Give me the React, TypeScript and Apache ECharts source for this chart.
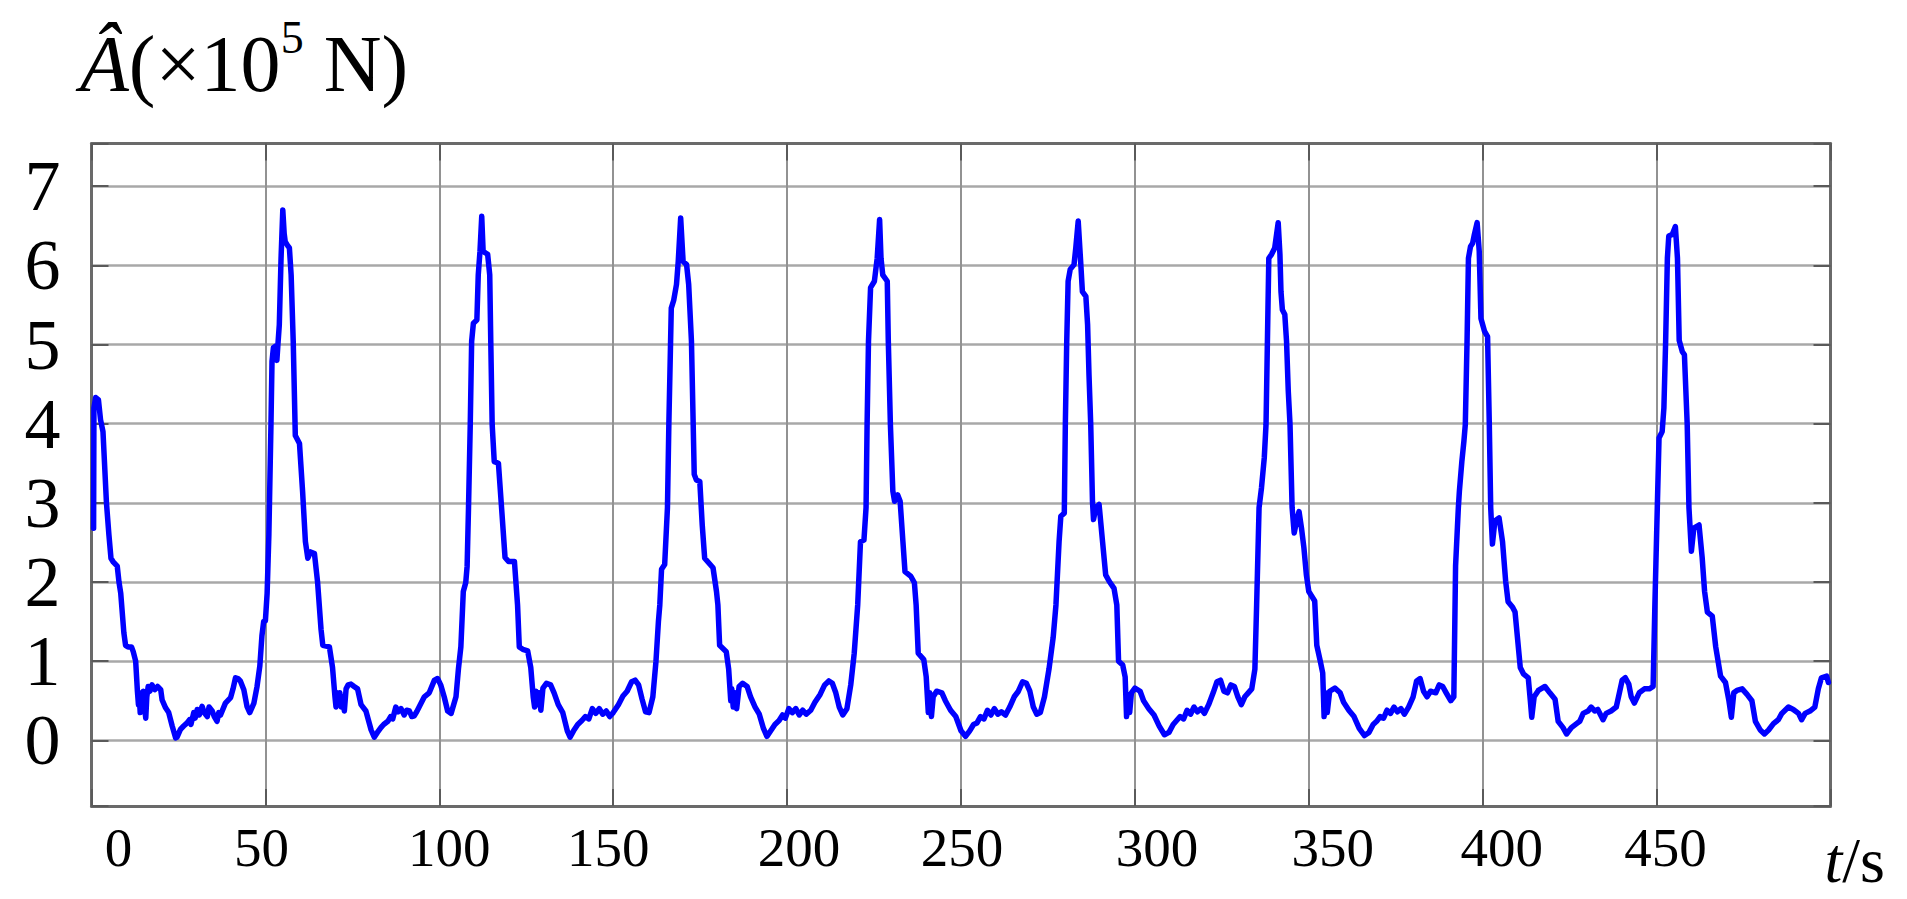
import React, { useEffect, useRef } from 'react';
import * as echarts from 'echarts';

// time t (s) , force Â (x10^5 N)
const cycle0: [number, number][] = [
  [0.6, 2.68], [0.7, 4.2], [1.2, 4.33], [2.0, 4.3], [2.6, 4.05], [3.3, 3.9], [4.3, 3.0], [5.0, 2.6], [5.6, 2.3], [6.3, 2.25],
  [7.4, 2.2], [7.9, 2.0], [8.4, 1.86], [9.3, 1.36], [9.8, 1.2], [10.5, 1.18], [11.5, 1.18], [12.0, 1.12], [12.7, 1.0], [13.2, 0.62],
  [13.5, 0.45], [13.7, 0.6], [14.0, 0.35], [14.3, 0.6], [14.6, 0.4], [14.9, 0.62], [15.2, 0.45], [15.6, 0.28], [15.9, 0.55], [16.3, 0.68],
  [16.8, 0.62], [17.4, 0.7], [18.2, 0.64], [19.0, 0.68], [19.9, 0.64], [20.3, 0.51], [21.3, 0.41], [22.2, 0.35], [23.2, 0.18], [24.2, 0.03],
  [24.6, 0.04], [25.6, 0.14], [26.5, 0.18], [27.5, 0.22], [28.2, 0.26], [28.6, 0.2], [29.4, 0.35], [29.8, 0.28], [30.4, 0.39], [31.0, 0.32],
  [31.8, 0.43], [32.4, 0.35], [33.3, 0.3], [33.8, 0.42], [34.7, 0.37], [35.3, 0.3], [36.1, 0.24], [36.6, 0.35], [37.1, 0.32], [38.5, 0.47],
  [40.0, 0.54], [40.7, 0.65], [41.4, 0.79], [42.1, 0.78], [42.8, 0.75], [43.8, 0.64], [44.7, 0.43], [45.5, 0.35], [46.7, 0.47], [47.6, 0.68],
  [48.4, 0.94], [49.0, 1.32], [49.5, 1.5], [50.0, 1.51],
];
const cycle1: [number, number][] = [
  [50.5, 1.86], [51.0, 2.6], [51.6, 3.99], [51.9, 4.79], [52.3, 4.96], [52.9, 4.98], [53.3, 4.8], [53.6, 5.0], [54.0, 5.25], [54.5, 6.09],
  [55.0, 6.7], [55.4, 6.4], [55.7, 6.3], [56.4, 6.25], [56.9, 6.22], [57.4, 5.88], [58.0, 5.04], [58.6, 3.85], [59.8, 3.75], [60.7, 3.14],
  [61.5, 2.51], [62.2, 2.3], [63.0, 2.38], [64.1, 2.36], [65.0, 2.0], [66.0, 1.4], [66.5, 1.2], [68.4, 1.18], [69.3, 0.92], [70.0, 0.55],
  [70.3, 0.42], [70.6, 0.6], [71.0, 0.45], [71.4, 0.6], [71.8, 0.42], [72.2, 0.55], [72.7, 0.37], [73.2, 0.65], [73.8, 0.7], [74.6, 0.71],
  [75.5, 0.68], [76.5, 0.65], [77.5, 0.45], [78.9, 0.37], [80.4, 0.13], [81.3, 0.04], [82.2, 0.1], [83.2, 0.16], [84.0, 0.2], [85.2, 0.24],
  [86.0, 0.3], [86.6, 0.27], [87.5, 0.42], [88.2, 0.36], [89.0, 0.4], [89.9, 0.32], [90.6, 0.38], [91.4, 0.37], [92.1, 0.3], [92.8, 0.31],
  [93.5, 0.36], [94.2, 0.42], [95.7, 0.55], [97.1, 0.6], [98.6, 0.76], [99.5, 0.78], [100.4, 0.7], [101.4, 0.55], [102.4, 0.37], [103.4, 0.34],
  [104.8, 0.55], [105.5, 0.9], [106.2, 1.18], [106.9, 1.88], [107.6, 1.99],
];
const cycle2: [number, number][] = [
  [108.0, 2.2], [108.4, 2.94], [108.9, 3.99], [109.3, 5.04], [109.8, 5.27], [110.8, 5.31], [111.2, 5.88], [111.7, 6.18], [112.2, 6.62], [112.6, 6.18],
  [113.2, 6.16], [113.9, 6.14], [114.5, 5.88], [114.8, 5.04], [115.2, 3.99], [115.8, 3.52], [117.0, 3.5], [117.9, 2.94], [118.9, 2.31], [119.9, 2.26],
  [121.6, 2.26], [122.5, 1.71], [123.0, 1.18], [124.0, 1.15], [125.4, 1.13], [126.3, 0.92], [127.0, 0.55], [127.4, 0.42], [127.8, 0.62], [128.2, 0.45],
  [128.7, 0.6], [129.2, 0.38], [129.8, 0.66], [130.8, 0.72], [132.0, 0.7], [133.0, 0.6], [134.2, 0.45], [135.5, 0.35], [136.8, 0.12], [137.6, 0.04],
  [138.6, 0.12], [139.8, 0.2], [141.0, 0.25], [142.0, 0.3], [143.0, 0.27], [144.0, 0.4], [145.0, 0.34], [146.0, 0.4], [147.0, 0.33], [148.0, 0.37],
  [149.0, 0.3], [150.0, 0.35], [151.5, 0.45], [152.8, 0.56], [154.0, 0.62], [155.3, 0.74], [156.3, 0.76], [157.3, 0.7], [158.3, 0.52], [159.3, 0.36],
  [160.3, 0.35], [161.4, 0.55], [162.3, 1.0], [163.0, 1.5], [163.4, 1.71], [163.9, 2.16], [164.8, 2.22],
];
const cycle3: [number, number][] = [
  [165.6, 2.94], [166.0, 3.99], [166.5, 5.04], [166.7, 5.46], [167.4, 5.56], [168.2, 5.76], [168.7, 6.05], [169.4, 6.6], [170.1, 6.05], [171.1, 6.01],
  [171.7, 5.76], [172.5, 5.04], [173.0, 3.99], [173.3, 3.36], [173.9, 3.29], [174.9, 3.27], [175.6, 2.72], [176.3, 2.3], [177.5, 2.24], [178.7, 2.18],
  [179.7, 1.88], [180.1, 1.71], [180.6, 1.2], [182.5, 1.12], [183.2, 0.9], [183.8, 0.5], [184.1, 0.65], [184.5, 0.42], [185.0, 0.6], [185.5, 0.4],
  [186.2, 0.68], [187.2, 0.72], [188.5, 0.68], [189.5, 0.55], [190.8, 0.42], [192.0, 0.33], [193.2, 0.15], [194.2, 0.05], [195.3, 0.12], [196.5, 0.2],
  [197.7, 0.25], [198.7, 0.32], [199.5, 0.28], [200.5, 0.4], [201.5, 0.35], [202.5, 0.4], [203.5, 0.32], [204.5, 0.38], [205.5, 0.33], [206.8, 0.38],
  [208.0, 0.48], [209.5, 0.58], [210.8, 0.7], [212.0, 0.75], [213.0, 0.72], [214.0, 0.6], [215.0, 0.42], [216.0, 0.32], [217.2, 0.4], [218.3, 0.7],
  [219.3, 1.1], [220.3, 1.71], [221.1, 2.51], [222.1, 2.53],
];
const cycle4: [number, number][] = [
  [222.7, 2.94], [223.0, 3.99], [223.4, 5.04], [224.0, 5.72], [225.1, 5.8], [225.9, 6.09], [226.6, 6.58], [227.0, 6.09], [227.5, 5.88], [228.8, 5.8],
  [229.1, 5.04], [229.7, 3.99], [230.4, 3.15], [230.9, 3.02], [231.8, 3.1], [232.5, 3.02], [233.3, 2.51], [233.9, 2.13], [235.6, 2.07], [236.6, 1.99],
  [237.1, 1.71], [237.7, 1.1], [239.3, 1.02], [240.0, 0.8], [240.6, 0.35], [241.0, 0.6], [241.5, 0.3], [242.0, 0.55], [243.0, 0.62], [244.5, 0.6],
  [245.5, 0.5], [247.0, 0.38], [248.5, 0.3], [250.0, 0.12], [251.3, 0.05], [252.5, 0.12], [253.6, 0.2], [254.6, 0.22], [255.6, 0.3], [256.6, 0.27],
  [257.6, 0.38], [258.6, 0.32], [259.6, 0.4], [260.6, 0.33], [261.6, 0.36], [262.8, 0.32], [264.0, 0.42], [265.3, 0.55], [266.5, 0.62], [267.7, 0.74],
  [268.8, 0.72], [269.8, 0.62], [270.8, 0.42], [271.8, 0.33], [272.8, 0.35], [274.0, 0.55], [275.3, 0.9], [276.5, 1.3], [277.3, 1.71], [278.2, 2.51],
  [278.7, 2.83], [279.7, 2.87],
];
const cycle5: [number, number][] = [
  [280.0, 3.99], [280.4, 5.04], [280.8, 5.8], [281.4, 5.95], [282.5, 6.01], [283.0, 6.22], [283.7, 6.56], [284.4, 6.05], [284.9, 5.67], [285.9, 5.61],
  [286.4, 5.25], [286.8, 4.62], [287.3, 3.99], [287.8, 3.02], [288.1, 2.79], [288.8, 2.94], [289.7, 2.98], [290.7, 2.51], [291.6, 2.09], [292.6, 2.01],
  [294.0, 1.92], [294.8, 1.71], [295.3, 1.0], [296.5, 0.95], [297.2, 0.8], [297.6, 0.3], [298.0, 0.58], [298.5, 0.35], [299.0, 0.6], [300.0, 0.66],
  [301.5, 0.62], [302.5, 0.5], [304.0, 0.4], [305.5, 0.32], [307.0, 0.18], [308.5, 0.07], [309.8, 0.1], [311.0, 0.2], [312.0, 0.25], [313.0, 0.3],
  [314.0, 0.27], [315.0, 0.38], [316.0, 0.33], [317.0, 0.42], [318.0, 0.36], [319.0, 0.4], [320.0, 0.34], [321.2, 0.45], [322.5, 0.6], [323.6, 0.74],
  [324.6, 0.76], [325.6, 0.62], [326.6, 0.6], [327.6, 0.7], [328.6, 0.68], [329.6, 0.55], [330.6, 0.45], [331.6, 0.55], [332.6, 0.6], [333.6, 0.65],
  [334.5, 0.9], [335.0, 1.71], [335.7, 2.94], [336.4, 3.19],
];
const cycle6: [number, number][] = [
  [337.2, 3.57], [337.7, 3.99], [338.1, 5.04], [338.5, 6.09], [339.3, 6.14], [340.2, 6.22], [341.2, 6.54], [341.7, 6.14], [342.0, 5.67], [342.4, 5.44],
  [343.1, 5.38], [343.6, 5.04], [344.1, 4.41], [344.6, 3.99], [345.2, 2.94], [345.8, 2.62], [346.5, 2.77], [347.2, 2.89], [347.9, 2.68], [348.6, 2.43],
  [349.3, 2.09], [350.0, 1.88], [351.7, 1.76], [352.3, 1.2], [353.3, 1.0], [354.0, 0.85], [354.4, 0.3], [354.8, 0.6], [355.3, 0.35], [356.0, 0.62],
  [357.5, 0.66], [359.0, 0.6], [360.0, 0.48], [361.5, 0.38], [363.0, 0.3], [364.5, 0.15], [366.0, 0.06], [367.3, 0.1], [368.5, 0.2], [369.5, 0.24],
  [370.5, 0.3], [371.5, 0.28], [372.5, 0.38], [373.5, 0.34], [374.5, 0.42], [375.5, 0.36], [376.5, 0.4], [377.5, 0.33], [378.7, 0.42], [380.0, 0.55],
  [381.0, 0.75], [382.0, 0.78], [383.0, 0.62], [384.0, 0.55], [385.0, 0.62], [386.5, 0.6], [387.5, 0.7], [388.5, 0.68], [389.5, 0.6], [390.8, 0.5],
  [391.7, 0.55],
];
const cycle7: [number, number][] = [
  [392.2, 2.2], [393.0, 2.94], [393.3, 3.15], [394.0, 3.52], [394.6, 3.78], [395.0, 3.99], [395.5, 5.04], [395.9, 6.09], [396.5, 6.24], [397.1, 6.28],
  [397.6, 6.39], [398.4, 6.54], [399.0, 6.18], [399.5, 5.33], [400.5, 5.17], [401.4, 5.1], [401.9, 3.99], [402.3, 2.94], [402.8, 2.48], [403.5, 2.77],
  [404.7, 2.81], [405.7, 2.51], [406.6, 2.01], [407.3, 1.75], [408.6, 1.68], [409.3, 1.62], [410.8, 0.92], [411.7, 0.84], [413.1, 0.79], [413.7, 0.5],
  [414.1, 0.29], [414.8, 0.55], [416.0, 0.63], [417.9, 0.68], [419.3, 0.6], [420.8, 0.52], [421.7, 0.24], [423.1, 0.16], [424.1, 0.08], [425.5, 0.16],
  [427.0, 0.21], [427.9, 0.24], [428.9, 0.34], [430.3, 0.37], [431.2, 0.42], [432.2, 0.37], [433.1, 0.39], [434.6, 0.26], [435.5, 0.34], [436.9, 0.37],
  [438.4, 0.42], [439.3, 0.6], [440.1, 0.76], [441.0, 0.79], [442.0, 0.71], [442.7, 0.55], [443.6, 0.47], [445.0, 0.6], [446.5, 0.65], [447.9, 0.65],
  [449.0, 0.68], [449.5, 1.7], [449.8, 2.23],
];
const cycle8: [number, number][] = [
  [450.2, 2.94], [450.7, 3.82], [451.6, 3.9], [452.1, 4.2], [452.6, 5.04], [453.1, 6.09], [453.5, 6.37], [454.5, 6.39], [455.4, 6.49], [456.0, 6.09],
  [456.5, 5.05], [457.4, 4.91], [458.0, 4.87], [458.8, 3.99], [459.3, 2.94], [460.0, 2.39], [460.7, 2.68], [462.2, 2.72], [463.1, 2.31], [463.8, 1.88],
  [464.6, 1.62], [466.0, 1.57], [467.0, 1.18], [468.4, 0.81], [469.8, 0.73], [470.8, 0.5], [471.5, 0.29], [472.2, 0.6], [473.1, 0.63], [474.6, 0.65],
  [476.0, 0.58], [477.4, 0.5], [478.4, 0.24], [479.8, 0.13], [481.0, 0.08], [482.2, 0.13], [483.6, 0.21], [485.0, 0.26], [486.0, 0.34], [487.9, 0.42],
  [489.3, 0.39], [490.8, 0.34], [491.7, 0.26], [492.7, 0.34], [494.1, 0.37], [495.5, 0.42], [496.5, 0.65], [497.4, 0.79], [498.9, 0.81], [499.4, 0.73],
];

const xTickLabels = [0, 50, 100, 150, 200, 250, 300, 350, 400, 450];
const yTickLabels = [0, 1, 2, 3, 4, 5, 6, 7];
const xRange = [0, 500];
const yRange = [-0.83, 7.54];

// label horizontal nudges (px) as placed in the original figure
const xLabelNudge: Record<number, number> = { 0: 27, 50: -4, 100: 10, 150: -5, 200: 12, 250: 1, 300: 22, 350: 24, 400: 19, 450: 9 };

const SERIF = '"Liberation Serif", "Times New Roman", serif';

export default function App() {
  const ref = useRef<HTMLDivElement>(null);
  useEffect(() => {
    const chart = echarts.init(ref.current!, null, { renderer: 'svg' });
    const data = ([] as [number, number][]).concat(cycle0, cycle1, cycle2, cycle3, cycle4, cycle5, cycle6, cycle7, cycle8);

    const rich: Record<string, any> = {};
    xTickLabels.forEach((v) => {
      const d = xLabelNudge[v] || 0;
      rich['x' + v] = {
        fontFamily: SERIF, fontSize: 55, color: '#000',
        padding: d >= 0 ? [0, 0, 0, 2 * d] : [0, -2 * d, 0, 0],
      };
    });

    const borderColor = '#6a6a6a';
    const tickStyle = { show: true, inside: true, length: 17, lineStyle: { color: '#5a5a5a', width: 2 } };

    chart.setOption({
      animation: false,
      backgroundColor: '#ffffff',
      grid: { left: 91.5, right: 76.5, top: 143.5, bottom: 93, containLabel: false },
      graphic: [
        {
          type: 'text', left: 80, top: 14,
          style: {
            text: '{a|Â}{b|(×10}{c|5}{b| N)}',
            rich: {
              a: { fontFamily: SERIF, fontStyle: 'italic', fontSize: 80, fill: '#000', lineHeight: 100 },
              b: { fontFamily: SERIF, fontSize: 80, fill: '#000', lineHeight: 100 },
              c: { fontFamily: SERIF, fontSize: 46, fill: '#000', verticalAlign: 'top', lineHeight: 60 },
            },
          },
        },
      ],
      xAxis: [
        {
          type: 'value', min: xRange[0], max: xRange[1], minInterval: 50, maxInterval: 50, position: 'bottom',
          axisLine: { show: true, onZero: false, lineStyle: { color: borderColor, width: 3 } },
          axisTick: tickStyle,
          splitLine: { show: true, lineStyle: { color: '#929292', width: 2 } },
          axisLabel: {
            show: true, margin: 14,
            formatter: (v: number) => (xTickLabels.includes(v) ? `{x${v}|${v}}` : ''),
            rich,
            fontFamily: SERIF, fontSize: 55, color: '#000',
          },
          name: '{i|t}{r|/s}',
          nameLocation: 'end', nameGap: -6,
          nameTextStyle: {
            verticalAlign: 'top', align: 'left', padding: [22, 0, 0, 0],
            rich: {
              i: { fontFamily: SERIF, fontStyle: 'italic', fontSize: 64, color: '#000' },
              r: { fontFamily: SERIF, fontSize: 64, color: '#000' },
            },
          },
        },
        {
          type: 'value', min: xRange[0], max: xRange[1], minInterval: 50, maxInterval: 50, position: 'top',
          axisLine: { show: true, onZero: false, lineStyle: { color: borderColor, width: 3 } },
          axisTick: tickStyle, axisLabel: { show: false }, splitLine: { show: false },
        },
      ],
      yAxis: [
        {
          type: 'value', min: yRange[0], max: yRange[1], minInterval: 1, maxInterval: 1, position: 'left',
          axisLine: { show: true, onZero: false, lineStyle: { color: borderColor, width: 3 } },
          axisTick: tickStyle,
          splitLine: { show: true, lineStyle: { color: '#a8a8a8', width: 2.5 } },
          axisLabel: {
            show: true, margin: 31,
            formatter: (v: number) => (yTickLabels.includes(v) ? String(v) : ''),
            fontFamily: SERIF, fontSize: 72, color: '#000',
          },
        },
        {
          type: 'value', min: yRange[0], max: yRange[1], minInterval: 1, maxInterval: 1, position: 'right',
          axisLine: { show: true, onZero: false, lineStyle: { color: borderColor, width: 3 } },
          axisTick: tickStyle, axisLabel: { show: false }, splitLine: { show: false },
        },
      ],
      series: [
        {
          type: 'line', data, xAxisIndex: 0, yAxisIndex: 0,
          showSymbol: false, symbol: 'none',
          lineStyle: { color: '#0000ff', width: 5.5, join: 'round', cap: 'round' },
          silent: true,
        },
      ],
    });
    return () => chart.dispose();
  }, []);
  return (
    <div
      ref={ref}
      style={{ position: 'absolute', left: 0, top: 0, width: 1907, height: 899, background: '#fff' }}
    />
  );
}
